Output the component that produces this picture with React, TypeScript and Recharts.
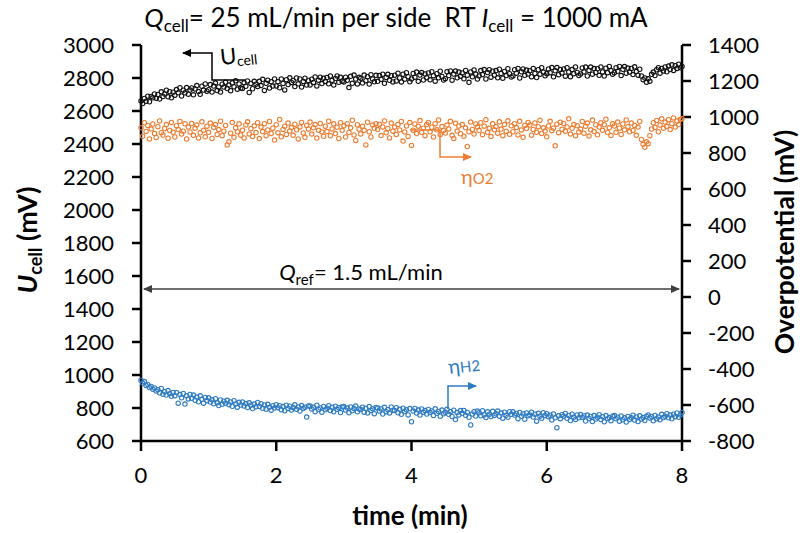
import { ComposedChart, Line, XAxis, YAxis } from "recharts";

// Sampling interval of the logged data, in minutes.
const TIME_STEP = 0.025;

const X_TICKS = [0, 2, 4, 6, 8];
const U_TICKS = [600, 800, 1000, 1200, 1400, 1600, 1800, 2000, 2200, 2400, 2600, 2800, 3000];
const ETA_TICKS = [-800, -600, -400, -200, 0, 200, 400, 600, 800, 1000, 1200, 1400];

// Cell voltage (mV), left axis
const U_CELL = [
  2661, 2645, 2676, 2659, 2690, 2656, 2688, 2680, 2703, 2678,
  2700, 2672, 2716, 2688, 2703, 2726, 2686, 2717, 2680, 2714,
  2696, 2730, 2710, 2741, 2691, 2726, 2710, 2742, 2702, 2727,
  2740, 2698, 2734, 2754, 2718, 2701, 2750, 2727, 2764, 2720,
  2729, 2760, 2715, 2751, 2769, 2724, 2746, 2715, 2762, 2745,
  2774, 2736, 2757, 2723, 2770, 2747, 2783, 2732, 2764, 2739,
  2736, 2771, 2750, 2782, 2712, 2767, 2735, 2780, 2762, 2749,
  2780, 2754, 2792, 2725, 2768, 2787, 2739, 2778, 2751, 2794,
  2752, 2778, 2741, 2794, 2767, 2728, 2790, 2760, 2801, 2773,
  2785, 2748, 2800, 2765, 2794, 2745, 2779, 2799, 2757, 2785,
  2758, 2793, 2773, 2806, 2752, 2787, 2805, 2766, 2798, 2779,
  2803, 2765, 2812, 2786, 2757, 2797, 2812, 2774, 2804, 2781,
  2776, 2805, 2786, 2742, 2810, 2768, 2818, 2794, 2764, 2804,
  2799, 2769, 2818, 2784, 2808, 2763, 2820, 2794, 2777, 2816,
  2780, 2815, 2792, 2823, 2768, 2803, 2822, 2786, 2814, 2776,
  2817, 2782, 2829, 2800, 2776, 2823, 2793, 2832, 2808, 2777,
  2794, 2828, 2805, 2836, 2780, 2818, 2833, 2788, 2825, 2802,
  2831, 2789, 2838, 2814, 2781, 2826, 2801, 2841, 2809, 2788,
  2796, 2838, 2815, 2843, 2787, 2824, 2842, 2801, 2836, 2811,
  2831, 2795, 2846, 2817, 2774, 2837, 2807, 2849, 2824, 2794,
  2812, 2845, 2821, 2851, 2794, 2833, 2850, 2805, 2841, 2817,
  2845, 2801, 2853, 2828, 2799, 2840, 2815, 2856, 2826, 2806,
  2812, 2850, 2829, 2858, 2800, 2838, 2855, 2816, 2848, 2824,
  2844, 2808, 2858, 2828, 2803, 2850, 2823, 2862, 2836, 2813,
  2826, 2855, 2832, 2863, 2807, 2844, 2863, 2820, 2852, 2831,
  2855, 2811, 2862, 2837, 2808, 2851, 2826, 2867, 2834, 2815,
  2825, 2861, 2837, 2866, 2812, 2846, 2866, 2823, 2857, 2834,
  2856, 2816, 2867, 2837, 2812, 2859, 2832, 2870, 2845, 2823,
  2832, 2862, 2841, 2870, 2815, 2853, 2869, 2829, 2860, 2837,
  2858, 2821, 2868, 2839, 2817, 2853, 2812, 2790, 2800, 2775,
  2795, 2781, 2822, 2836, 2815, 2850, 2862, 2829, 2858, 2843,
  2867, 2838, 2872, 2851, 2880, 2846, 2875, 2858, 2884, 2862,
  2870,
];

// O2 electrode overpotential (mV), right axis
const ETA_O2 = [
  940, 893, 968, 920, 953, 878, 933, 961, 908, 886,
  946, 978, 913, 900, 936, 958, 882, 925, 970, 915,
  889, 952, 930, 975, 905, 921, 962, 878, 944, 917,
  964, 898, 937, 955, 884, 912, 973, 926, 890, 949,
  915, 966, 881, 942, 958, 903, 930, 977, 896, 921,
  953, 845, 862, 910, 969, 887, 940, 918, 962, 899,
  927, 884, 956, 973, 906, 935, 891, 951, 914, 968,
  880, 944, 919, 963, 896, 928, 975, 909, 938, 872,
  957, 912, 986, 890, 931, 949, 903, 966, 922, 941,
  898, 960, 929, 878, 945, 970, 911, 887, 953, 934,
  972, 905, 940, 958, 883, 926, 964, 917, 893, 949,
  919, 977, 896, 934, 962, 908, 943, 881, 968, 926,
  951, 889, 963, 914, 940, 982, 900, 870, 957, 932,
  906, 948, 926, 845, 971, 918, 889, 955, 937, 963,
  930, 960, 897, 945, 978, 912, 936, 884, 966, 921,
  944, 903, 959, 928, 975, 866, 917, 950, 892, 969,
  842, 927, 961, 908, 949, 980, 915, 938, 896, 958,
  970, 918, 943, 889, 963, 929, 984, 903, 947, 925,
  911, 955, 934, 976, 898, 880, 965, 922, 950, 907,
  958, 893, 940, 836, 918, 972, 931, 905, 961, 944,
  926, 968, 902, 949, 985, 915, 937, 891, 962, 929,
  947, 910, 973, 933, 896, 958, 921, 979, 904, 951,
  918, 963, 941, 900, 976, 928, 887, 953, 936, 970,
  955, 899, 931, 967, 915, 946, 982, 909, 940, 922,
  890, 950, 976, 924, 938, 840, 960, 913, 971, 932,
  964, 921, 945, 990, 905, 937, 958, 896, 952, 917,
  933, 975, 910, 948, 966, 894, 929, 983, 919, 957,
  901, 944, 968, 926, 957, 988, 914, 940, 897, 962,
  950, 915, 972, 938, 903, 961, 929, 984, 946, 918,
  966, 925, 953, 898, 944, 975, 875, 848, 832, 862,
  852, 896, 934, 968, 942, 981, 918, 955, 990, 937,
  972, 948, 985, 930, 963, 995, 944, 978, 958, 986,
  992,
];

// H2 electrode overpotential (mV), right axis
const ETA_H2 = [
  -462, -478, -470, -492, -486, -503, -497, -512, -505, -522,
  -515, -532, -508, -540, -526, -545, -520, -537, -552, -530,
  -548, -530, -590, -542, -560, -536, -595, -549, -566, -541,
  -563, -545, -574, -556, -582, -549, -568, -590, -558, -576,
  -560, -584, -571, -593, -565, -588, -603, -572, -596, -579,
  -590, -574, -598, -583, -607, -576, -594, -612, -585, -600,
  -583, -605, -592, -614, -588, -601, -620, -595, -610, -586,
  -608, -593, -618, -600, -623, -596, -612, -629, -604, -617,
  -598, -615, -604, -626, -609, -632, -601, -619, -607, -628,
  -614, -599, -624, -611, -634, -603, -620, -612, -667, -606,
  -605, -622, -613, -637, -601, -625, -616, -640, -608, -627,
  -618, -604, -631, -612, -638, -607, -624, -615, -642, -610,
  -609, -628, -617, -643, -611, -632, -620, -606, -638, -622,
  -625, -612, -640, -618, -645, -609, -630, -621, -648, -614,
  -616, -633, -622, -650, -613, -637, -626, -644, -611, -630,
  -630, -615, -643, -624, -652, -618, -636, -627, -655, -620,
  -693, -634, -619, -645, -628, -656, -622, -640, -631, -650,
  -625, -642, -633, -658, -621, -646, -636, -662, -628, -649,
  -640, -624, -652, -637, -664, -629, -681, -642, -655, -631,
  -646, -630, -657, -641, -668, -711, -650, -637, -661, -634,
  -643, -660, -632, -655, -670, -638, -651, -664, -635, -658,
  -649, -634, -662, -645, -673, -640, -657, -668, -637, -652,
  -638, -656, -647, -676, -641, -663, -650, -679, -644, -660,
  -655, -640, -667, -651, -690, -646, -662, -674, -643, -658,
  -648, -665, -657, -683, -650, -671, -726, -660, -676, -654,
  -662, -647, -674, -658, -686, -651, -668, -680, -655, -671,
  -653, -670, -661, -689, -656, -675, -664, -692, -659, -678,
  -668, -654, -681, -665, -693, -659, -676, -670, -687, -662,
  -659, -677, -668, -690, -661, -682, -671, -695, -664, -680,
  -671, -657, -684, -666, -692, -660, -678, -670, -686, -663,
  -655, -672, -664, -688, -658, -676, -667, -682, -652, -670,
  -662, -648, -671, -656, -677, -651, -665, -644, -668, -655,
  -642,
];

const FONT = "Lato, 'Open Sans', sans-serif";
const ORANGE = "#ED7D31";
const BLUE = "#2E7BC4";
const AXIS = { stroke: "#000", strokeWidth: 2.5 };

const rows = U_CELL.map((u, i) => ({
  t: +(i * TIME_STEP).toFixed(3),
  u,
  o2: ETA_O2[i],
  h2: ETA_H2[i],
}));

function Marker({ id, color }: { id: string; color: string }) {
  return (
    <marker id={id} markerWidth="9" markerHeight="8" refX="8" refY="4" orient="auto-start-reverse" markerUnits="userSpaceOnUse">
      <path d="M0,0 L9,4 L0,8 z" fill={color} />
    </marker>
  );
}

function Overlay() {
  return (
    <svg width={802} height={533} style={{ position: "absolute", left: 0, top: 0, pointerEvents: "none", fontFamily: FONT }}>
      <defs>
        <Marker id="arK" color="#000" />
        <Marker id="arG" color="#404040" />
        <Marker id="arO" color={ORANGE} />
        <Marker id="arB" color={BLUE} />
      </defs>

      {/* title */}
      <text x={396} y={27} textAnchor="middle" fontSize={26} fill="#000">
        <tspan fontStyle="italic">Q</tspan>
        <tspan fontSize={17} dy={5}>cell</tspan>
        <tspan dy={-5}>= 25 mL/min per side{"\u00a0"} RT </tspan>
        <tspan fontStyle="italic">I</tspan>
        <tspan fontSize={17} dy={5}>cell</tspan>
        <tspan dy={-5}> = 1000 mA</tspan>
      </text>

      {/* axis titles */}
      <text transform="translate(37,240) rotate(-90)" textAnchor="middle" fontSize={27} fontWeight="bold" fill="#000">
        <tspan fontStyle="italic">U</tspan>
        <tspan fontSize={18} dy={5}>cell</tspan>
        <tspan dy={-5}> (mV)</tspan>
      </text>
      <text transform="translate(794,242) rotate(-90)" textAnchor="middle" fontSize={26.5} fontWeight="bold" fill="#000">
        Overpotential (mV)
      </text>
      <text x={410} y={525} textAnchor="middle" fontSize={26} fontWeight="bold" fill="#000">
        time (min)
      </text>

      {/* U_cell pointer */}
      <polyline points="245,80 212,80 212,53 183,53" fill="none" stroke="#000" strokeWidth={1.5} markerEnd="url(#arK)" />
      <text x={221} y={65} fontSize={22} fill="#000" transform="rotate(-6 221 65)">
        U<tspan fontSize={14} dy={3}>cell</tspan>
      </text>

      {/* eta O2 pointer */}
      <polyline points="410,130 440,130 440,157 471,157" fill="none" stroke={ORANGE} strokeWidth={1.5} markerEnd="url(#arO)" />
      <text x={461} y={184} fontSize={20} fill={ORANGE}>
        η<tspan fontSize={15}>O2</tspan>
      </text>

      {/* eta H2 pointer */}
      <polyline points="448,409 448,386 476,386" fill="none" stroke={BLUE} strokeWidth={1.5} markerEnd="url(#arB)" />
      <text x={449} y={374} fontSize={20} fill={BLUE} transform="rotate(-6 449 374)">
        η<tspan fontSize={15}>H2</tspan>
      </text>

      {/* Q_ref span */}
      <line x1={144} y1={289} x2={679} y2={289} stroke="#404040" strokeWidth={1.3} markerStart="url(#arG)" markerEnd="url(#arG)" />
      <text x={361} y={280} textAnchor="middle" fontSize={22} fill="#000">
        <tspan fontStyle="italic">Q</tspan>
        <tspan fontSize={15} dy={5}>ref</tspan>
        <tspan dy={-5}>= 1.5 mL/min</tspan>
      </text>
    </svg>
  );
}

export default function App() {
  const tick = { fill: "#000", fontSize: 22, fontFamily: FONT };
  const dot = (color: string) => ({ r: 2.2, stroke: color, strokeWidth: 1.1, fill: "none" });
  return (
    <div style={{ position: "absolute", left: 0, top: 0, width: 802, height: 533, background: "#fff", fontFamily: FONT }}>
      <ComposedChart width={802} height={533} data={rows} margin={{ top: 45, right: 40, bottom: 42, left: 61 }}>
        <XAxis
          dataKey="t"
          type="number"
          domain={[0, 8]}
          ticks={X_TICKS}
          axisLine={AXIS}
          tickLine={AXIS}
          tickSize={10}
          tickMargin={16}
          tick={tick}
          height={50}
        />
        <YAxis
          yAxisId="left"
          orientation="left"
          domain={[600, 3000]}
          ticks={U_TICKS}
          axisLine={AXIS}
          tickLine={AXIS}
          tickSize={9}
          tickMargin={18}
          tick={tick}
          width={80}
          interval={0}
        />
        <YAxis
          yAxisId="right"
          orientation="right"
          domain={[-800, 1400]}
          ticks={ETA_TICKS}
          axisLine={AXIS}
          tickLine={AXIS}
          tickSize={9}
          tickMargin={17}
          tick={tick}
          width={80}
          interval={0}
        />
        <Line yAxisId="left" dataKey="u" stroke="none" dot={dot("#111")} activeDot={false} isAnimationActive={false} />
        <Line yAxisId="right" dataKey="o2" stroke="none" dot={dot(ORANGE)} activeDot={false} isAnimationActive={false} />
        <Line yAxisId="right" dataKey="h2" stroke="none" dot={dot(BLUE)} activeDot={false} isAnimationActive={false} />
      </ComposedChart>
      <Overlay />
    </div>
  );
}
